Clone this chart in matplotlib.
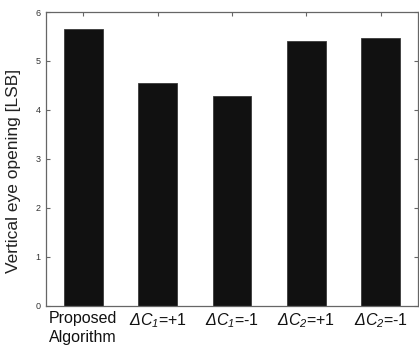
import matplotlib
matplotlib.use("Agg")
import matplotlib.pyplot as plt

plt.rcParams['font.family'] = ['Liberation Sans', 'DejaVu Sans']
# math parts (ΔC with subscript) are set entirely in italic
plt.rcParams['mathtext.fontset'] = 'custom'
plt.rcParams['mathtext.rm'] = 'Liberation Sans:italic'
plt.rcParams['mathtext.it'] = 'Liberation Sans:italic'

categories = ['Proposed\nAlgorithm',
              r'$\Delta C_1$=+1',
              r'$\Delta C_1$=-1',
              r'$\Delta C_2$=+1',
              r'$\Delta C_2$=-1']
eye_opening = [5.65, 4.55, 4.29, 5.41, 5.47]
y_ticks = [0, 1, 2, 3, 4, 5, 6]

fig = plt.figure(figsize=(4.19, 3.51), dpi=100)
ax = fig.add_axes([0.1098, 0.129, 0.8878, 0.8368])

positions = list(range(1, len(categories) + 1))
ax.bar(positions, eye_opening, width=0.52, color='#111111',
       edgecolor='#3a3a3a', linewidth=0.6, zorder=2)

ax.set_xlim(0.5, 5.5)
ax.set_ylim(0, 6)
ax.set_yticks(y_ticks)
ax.set_yticklabels([str(t) for t in y_ticks], fontsize=6.5, color='#333333')
ax.set_xticks(positions)
ax.set_xticklabels(categories, fontsize=11.5, color='#111111', linespacing=1.3)

ax.tick_params(axis='both', direction='in', top=True, right=True,
               length=3, width=0.8, color='#666666')
ax.tick_params(axis='y', pad=4)
ax.tick_params(axis='x', pad=4)

for spine in ax.spines.values():
    spine.set_color('#666666')
    spine.set_linewidth(0.9)

ax.set_ylabel('Vertical eye opening [LSB]', fontsize=12.5, color='#222222')
ax.yaxis.set_label_coords(-0.066, 0.459)

fig.savefig('out.png', dpi=100, facecolor='white')
